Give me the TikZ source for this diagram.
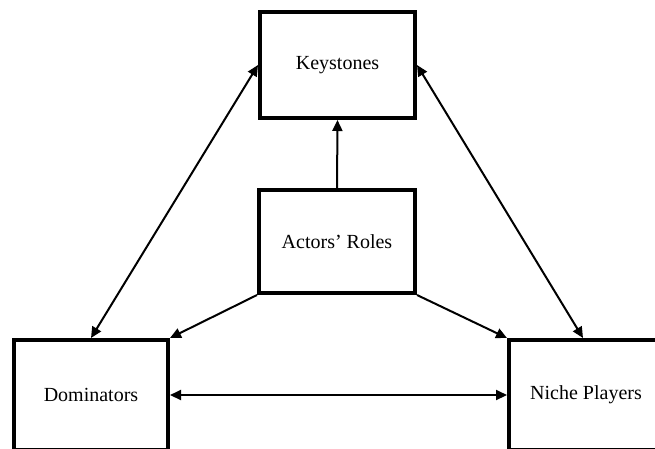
\documentclass[tikz,border=0pt]{standalone}
\usepackage{fontspec}
\setmainfont{Liberation Serif}
\usetikzlibrary{arrows.meta}
\begin{document}
\begin{tikzpicture}[x=1pt,y=-1pt,
  box/.style={draw=black,line width=4pt,fill=white,inner sep=0pt,font=\fontsize{20pt}{24pt}\selectfont},
  conn/.style={line width=2pt,-{Triangle[length=11pt,width=10pt]}},
  biconn/.style={line width=2pt,{Triangle[length=11pt,width=10pt]}-{Triangle[length=11pt,width=10pt]}}]
\useasboundingbox (0,0) rectangle (655,448);
\clip (0,0) rectangle (655,448);
\node[box,minimum width=155pt,minimum height=106pt] (keys) at (337.5,65) {Keystones};
\node[box,minimum width=156pt,minimum height=103pt] (act) at (337,241.5) {Actors’ Roles};
\node[box,minimum width=154pt,minimum height=110pt] (dom) at (91,395) {Dominators};
\node[box,minimum width=154pt,minimum height=110pt] (niche) at (586,395) {Niche Players};
\draw[conn] (act.north) -- (keys.south);
\draw[conn] (act.south west) -- (dom.north east);
\draw[conn] (act.south east) -- (niche.north west);
\draw[biconn] (keys.west) -- (dom.north);
\draw[biconn] (keys.east) -- ([xshift=-3pt]niche.north);
\draw[biconn] (dom.east) -- (niche.west);
\end{tikzpicture}
\end{document}
